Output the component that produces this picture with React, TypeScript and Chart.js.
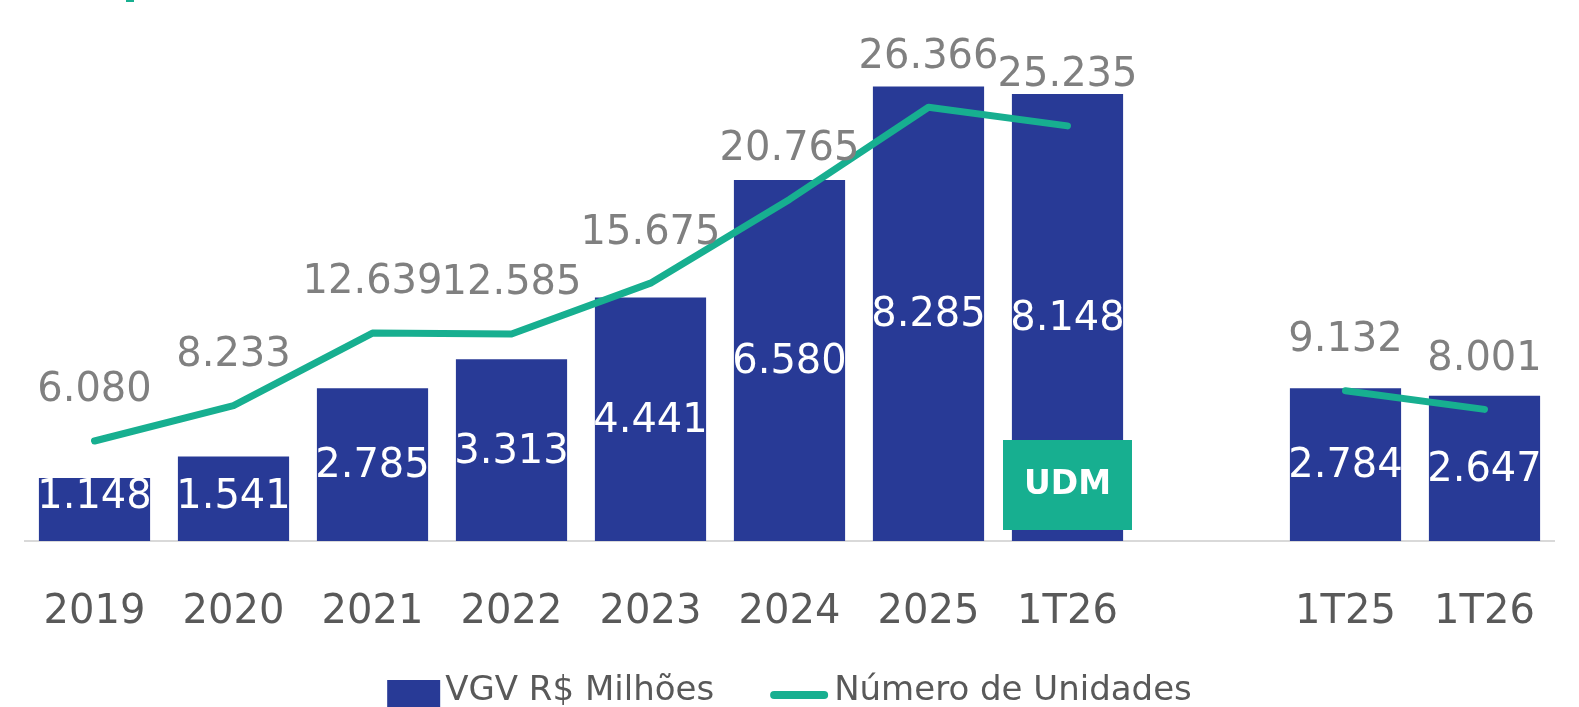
import React, { useEffect, useRef } from 'react';
import { Chart, registerables } from 'chart.js';

Chart.register(...registerables);

// ---- Data ----
const categories: string[] = ['2019', '2020', '2021', '2022', '2023', '2024', '2025', '1T26', '', '1T25', '1T26'];
const vgvValues: (number | null)[] = [1148, 1541, 2785, 3313, 4441, 6580, 8285, 8148, null, 2784, 2647];
const unitValues: (number | null)[] = [6080, 8233, 12639, 12585, 15675, 20765, 26366, 25235, null, 9132, 8001];
const seriesNames: string[] = ['VGV R$ Milhões', 'Número de Unidades'];
const udmIndex = 7;
const udmText = 'UDM';

// ---- Styles ----
const BLUE = '#283A96';
const TEAL = '#17AF90';
const AXIS_TEXT = '#595959';
const LABEL_GRAY = '#808080';
const FONT = '"DejaVu Sans", sans-serif';

const fmt = (v: number) => Math.round(v).toString().replace(/\B(?=(\d{3})+(?!\d))/g, '.');

const labelsPlugin = {
  id: 'customLabels',
  afterDatasetsDraw(chart: any) {
    const ctx = chart.ctx;
    const barMeta = chart.getDatasetMeta(0);
    const lineMeta = chart.getDatasetMeta(1);
    ctx.save();
    ctx.font = `40px ${FONT}`;
    ctx.textAlign = 'center';
    ctx.textBaseline = 'middle';
    // bar labels (white, centered in bar)
    ctx.fillStyle = '#FFFFFF';
    barMeta.data.forEach((el: any, i: number) => {
      const v = vgvValues[i];
      if (v == null) return;
      const y = Math.min((el.y + el.base) / 2, el.base - 45) + 2;
      ctx.fillText(fmt(v), el.x, y);
    });
    // line labels (gray, above points)
    ctx.fillStyle = LABEL_GRAY;
    lineMeta.data.forEach((pt: any, i: number) => {
      const v = unitValues[i];
      if (v == null) return;
      ctx.fillText(fmt(v), pt.x, pt.y - 50);
    });
    // UDM box
    const udmBar = barMeta.data[udmIndex];
    if (udmBar) {
      const w = 129;
      const h = 90;
      const bottom = udmBar.base - 11;
      ctx.fillStyle = TEAL;
      ctx.fillRect(udmBar.x - w / 2, bottom - h, w, h);
      ctx.fillStyle = '#FFFFFF';
      ctx.font = `bold 33px ${FONT}`;
      ctx.fillText(udmText, udmBar.x, bottom - h / 2);
    }
    ctx.restore();
  },
  afterDraw(chart: any) {
    const ctx = chart.ctx;
    const area = chart.chartArea;
    ctx.save();
    // small title fragment at top-left
    ctx.fillStyle = TEAL;
    ctx.fillRect(126, 0, 8, 2);
    // custom legend
    ctx.font = `34px ${FONT}`;
    ctx.textBaseline = 'middle';
    ctx.textAlign = 'left';
    const boxW = 53;
    const boxH = 30;
    const lineW = 58;
    const gap1 = 5;
    const gap2 = 6;
    const spacing = 56;
    const t1 = ctx.measureText(seriesNames[0]).width;
    const t2 = ctx.measureText(seriesNames[1]).width;
    const total = boxW + gap1 + t1 + spacing + lineW + gap2 + t2;
    let x = (area.left + area.right) / 2 - total / 2;
    const symY = 695;
    const textY = 691;
    ctx.fillStyle = BLUE;
    ctx.fillRect(x, symY - boxH / 2, boxW, boxH);
    x += boxW + gap1;
    ctx.fillStyle = AXIS_TEXT;
    ctx.fillText(seriesNames[0], x, textY);
    x += t1 + spacing;
    ctx.strokeStyle = TEAL;
    ctx.lineWidth = 8;
    ctx.lineCap = 'round';
    ctx.beginPath();
    ctx.moveTo(x + 4, symY);
    ctx.lineTo(x + lineW - 4, symY);
    ctx.stroke();
    x += lineW + gap2;
    ctx.fillStyle = AXIS_TEXT;
    ctx.fillText(seriesNames[1], x, textY);
    ctx.restore();
  },
};

export default function App() {
  const canvasRef = useRef<HTMLCanvasElement | null>(null);

  useEffect(() => {
    if (!canvasRef.current) return;
    const chart = new Chart(canvasRef.current, {
      type: 'bar',
      data: {
        labels: categories,
        datasets: [
          {
            type: 'bar',
            label: seriesNames[0],
            data: vgvValues,
            backgroundColor: BLUE,
            categoryPercentage: 0.8,
            barPercentage: 1,
            yAxisID: 'y',
            order: 1,
          } as any,
          {
            type: 'line',
            label: seriesNames[1],
            data: unitValues,
            borderColor: TEAL,
            backgroundColor: TEAL,
            borderWidth: 7,
            borderCapStyle: 'round',
            borderJoinStyle: 'round',
            pointRadius: 0,
            pointHoverRadius: 0,
            tension: 0,
            spanGaps: false,
            yAxisID: 'y1',
            order: 0,
          } as any,
        ],
      },
      options: {
        responsive: false,
        animation: false,
        devicePixelRatio: 1,
        layout: { padding: { left: 25, right: 25, top: 10, bottom: 30 } },
        plugins: {
          legend: { display: false },
          tooltip: { enabled: false },
        },
        scales: {
          x: {
            grid: { display: false },
            border: { display: true, color: '#D9D9D9', width: 2 },
            ticks: {
              color: AXIS_TEXT,
              font: { family: FONT, size: 40 },
              padding: 40,
              maxRotation: 0,
              autoSkip: false,
            },
          },
          y: { display: false, min: 0, max: 9680 },
          y1: { display: false, min: 0, max: 32280, position: 'right' },
        },
      },
      plugins: [labelsPlugin],
    });
    return () => chart.destroy();
  }, []);

  return (
    <div style={{ position: 'absolute', left: 0, top: 0, width: 1579, height: 707, background: '#FFFFFF' }}>
      <canvas ref={canvasRef} width={1579} height={707} />
    </div>
  );
}
